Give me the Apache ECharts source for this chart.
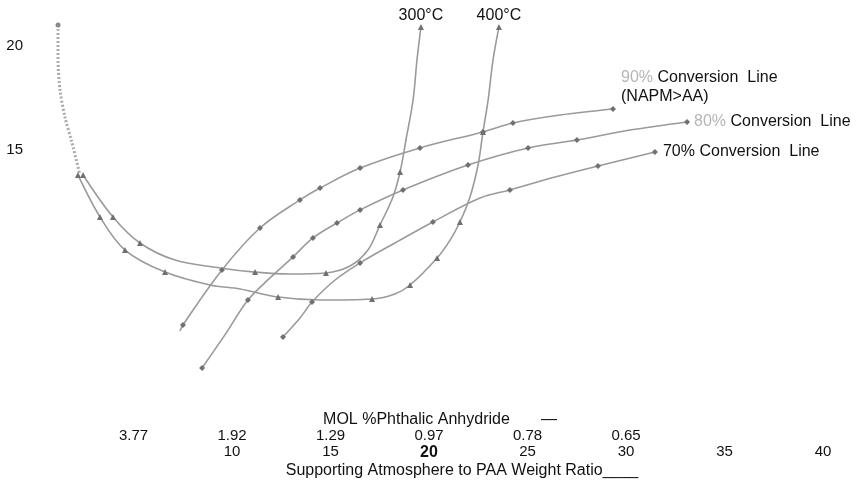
<!DOCTYPE html>
<html>
<head>
<meta charset="utf-8">
<script src="https://cdn.jsdelivr.net/npm/echarts@6/dist/echarts.min.js"></script>
<style>
  html, body { margin: 0; padding: 0; background: #fff; }
  #chart { width: 861px; height: 488px; }
</style>
</head>
<body>
<div id="chart"></div>
<script>
// x = weight ratio, y = vertical scale value
const ratioTicks = [10, 15, 20, 25, 30, 35, 40];
const molLabels = { 5: "3.77", 10: "1.92", 15: "1.29", 20: "0.97", 25: "0.78", 30: "0.65" };
const yLabels = [15, 20];

const dottedStart = [[1.17, 21.01], [1.17, 19.33], [1.27, 17.88], [1.52, 16.59], [1.88, 15.34], [2.28, 13.80]];

const curve300 = [[2.44, 13.80], [3.96, 11.78], [5.33, 10.53], [7.11, 9.71], [9.39, 9.33], [11.17, 9.13],
  [12.94, 9.04], [14.77, 9.09], [15.99, 9.42], [16.90, 10.19], [17.51, 11.39], [18.17, 12.74],
  [18.53, 13.94], [18.83, 15.48], [19.19, 17.40], [19.39, 19.33], [19.59, 20.91]];
const marks300 = [0, 1, 2, 5, 7, 10, 12, 16];

const curve400 = [[2.18, 13.80], [3.30, 11.78], [4.57, 10.19], [6.60, 9.13], [8.88, 8.51], [10.41, 8.32],
  [12.34, 7.93], [14.47, 7.79], [17.11, 7.84], [18.27, 8.08], [19.04, 8.51], [20.41, 9.81],
  [21.07, 10.67], [21.57, 11.54], [22.08, 12.74], [22.49, 14.28], [22.74, 15.87], [23.00, 17.40],
  [23.25, 19.33], [23.55, 20.91]];
const marks400 = [0, 1, 2, 3, 6, 8, 10, 11, 13, 16, 19];

const conv90 = [[7.36, 6.30], [7.51, 6.59], [9.49, 9.23], [11.42, 11.25], [13.45, 12.60], [14.47, 13.17],
  [16.50, 14.13], [19.54, 15.10], [22.74, 15.87], [24.26, 16.30], [26.65, 16.68], [29.34, 16.97]];
const marks90 = [1, 2, 3, 4, 5, 6, 7, 8, 9, 11];

const conv80 = [[8.48, 4.52], [9.64, 6.11], [10.81, 7.79], [11.93, 8.85], [13.10, 9.86], [14.11, 10.77],
  [15.33, 11.49], [16.50, 12.12], [18.68, 13.08], [21.98, 14.28], [25.03, 15.10], [27.51, 15.48],
  [30.20, 15.96], [33.10, 16.35]];
const marks80 = [0, 2, 4, 5, 6, 7, 8, 9, 10, 11, 13];

const conv70 = [[12.59, 6.01], [13.45, 6.92], [14.06, 7.69], [15.23, 8.75], [16.50, 9.57], [18.27, 10.53],
  [20.20, 11.54], [22.59, 12.69], [24.11, 13.08], [26.40, 13.70], [28.58, 14.23], [31.47, 14.90]];
const marks70 = [0, 2, 4, 6, 8, 10, 11];

const FONT = "Liberation Sans";
const lineColor = "#9a9a9a";
const markColor = "#707070";

function curveSeries(name, data, marks, shape, label) {
  const last = data.length - 1;
  return {
    name: name,
    type: "line",
    data: data,
    smooth: 0.35,
    showAllSymbol: true,
    symbol: (val, params) => (marks.includes(params.dataIndex) ? shape : "none"),
    symbolSize: 6,
    itemStyle: { color: markColor },
    lineStyle: { color: lineColor, width: 1.6 },
    label: Object.assign({
      show: true,
      fontFamily: FONT,
      fontSize: 16,
      color: "#111",
      formatter: (p) => (p.dataIndex === last ? label.text : "")
    }, label.opts),
    z: 3
  };
}

const chart = echarts.init(document.getElementById("chart"));
chart.setOption({
  animation: false,
  backgroundColor: "#ffffff",
  grid: { left: 35, right: 38, top: 4.4, bottom: 109.2 },
  xAxis: [
    {
      type: "value", min: 0, max: 40, interval: 5, position: "bottom",
      axisLine: { show: false }, axisTick: { show: false }, splitLine: { show: false },
      axisLabel: {
        margin: 66, fontFamily: FONT, fontSize: 15, color: "#111",
        formatter: (v) => (ratioTicks.includes(v) ? (v === 20 ? "{b|20}" : String(v)) : ""),
        rich: { b: { fontFamily: FONT, fontSize: 16, fontWeight: "bold", color: "#111" } }
      },
      name: "Supporting Atmosphere to PAA Weight Ratio____",
      nameLocation: "middle", nameGap: 84, nameMoveOverlap: false,
      nameTextStyle: { fontFamily: FONT, fontSize: 16, color: "#111", padding: [0, 0, 0, 66] }
    },
    {
      type: "value", min: 0, max: 40, interval: 5, position: "bottom",
      axisLine: { show: false }, axisTick: { show: false }, splitLine: { show: false },
      axisLabel: {
        margin: 50, fontFamily: FONT, fontSize: 15, color: "#111",
        formatter: (v) => molLabels[v] || ""
      },
      name: "MOL %Phthalic Anhydride       \u2014",
      nameLocation: "middle", nameGap: 33, nameMoveOverlap: false,
      nameTextStyle: { fontFamily: FONT, fontSize: 16, color: "#111", padding: [0, 0, 0, 22] }
    }
  ],
  yAxis: {
    type: "value", min: 4, max: 22, interval: 1,
    axisLine: { show: false }, axisTick: { show: false }, splitLine: { show: false },
    axisLabel: {
      margin: 12, fontFamily: FONT, fontSize: 15, color: "#111",
      formatter: (v) => (yLabels.includes(v) ? String(v) : "")
    }
  },
  series: [
    {
      type: "line",
      data: dottedStart,
      smooth: 0.3,
      showAllSymbol: true,
      symbol: (val, params) => (params.dataIndex === 0 ? "circle" : "none"),
      symbolSize: 5,
      itemStyle: { color: "#888" },
      lineStyle: { color: "#aaaaaa", width: 3, type: [2, 2] },
      z: 2
    },
    curveSeries("300", curve300, marks300, "triangle",
      { text: "300\u00b0C", opts: { position: "top", distance: 0 } }),
    curveSeries("400", curve400, marks400, "triangle",
      { text: "400\u00b0C", opts: { position: "top", distance: 0 } }),
    curveSeries("90", conv90, marks90, "diamond", {
      text: "{g|90%} Conversion  Line\n(NAPM>AA)",
      opts: {
        position: "right", distance: 5, offset: [0, -22], lineHeight: 19, align: "left",
        rich: { g: { color: "#b5b5b5", fontFamily: FONT, fontSize: 16 } }
      }
    }),
    curveSeries("80", conv80, marks80, "diamond", {
      text: "{g|80%} Conversion  Line",
      opts: {
        position: "right", distance: 4,
        rich: { g: { color: "#b5b5b5", fontFamily: FONT, fontSize: 16 } }
      }
    }),
    curveSeries("70", conv70, marks70, "diamond", {
      text: "70% Conversion  Line",
      opts: { position: "right", distance: 5 }
    })
  ]
});
</script>
</body>
</html>
